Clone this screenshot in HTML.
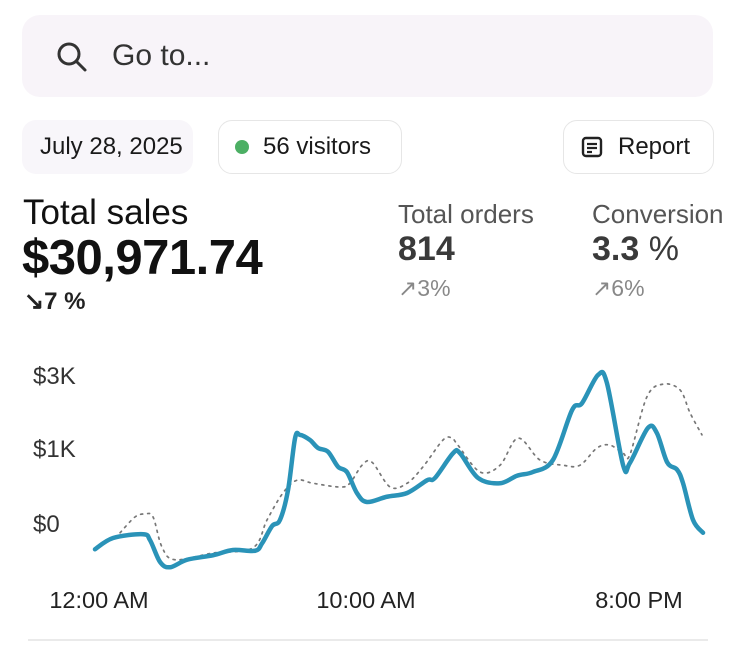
<!DOCTYPE html>
<html><head><meta charset="utf-8"><style>
body{margin:0;width:736px;height:645px;background:#fff;font-family:"Liberation Sans",sans-serif;color:#111;position:relative;overflow:hidden}
.abs{position:absolute;white-space:nowrap}
.pill{position:absolute;top:120px;height:54px;border-radius:14px;box-sizing:border-box;display:flex;align-items:center;font-size:24px;color:#1a1a1a}
</style></head><body>
<div class="abs" style="left:22px;top:15px;width:691px;height:82px;background:#f8f4f9;border-radius:18px">
  <svg style="position:absolute;left:34px;top:26px" width="32" height="32" viewBox="0 0 32 32"><circle cx="13" cy="13" r="10" fill="none" stroke="#333" stroke-width="3"/><line x1="20.5" y1="20.5" x2="29" y2="29" stroke="#333" stroke-width="3" stroke-linecap="round"/></svg>
  <span class="abs" style="left:90px;top:24px;font-size:30px;color:#333">Go to...</span>
</div>
<div class="pill" style="left:22px;width:171px;background:#f8f6fa;padding-left:18px">July 28, 2025</div>
<div class="pill" style="left:218px;width:184px;border:1px solid #e6e6e6;padding-left:16px"><span style="width:14px;height:14px;border-radius:50%;background:#4caf64;margin-right:14px"></span>56 visitors</div>
<div class="pill" style="left:563px;width:151px;border:1px solid #e6e6e6;padding-left:16px">
  <svg width="24" height="24" viewBox="0 0 24 24" style="margin-right:14px"><rect x="3" y="3" width="18" height="18" rx="3" fill="none" stroke="#222" stroke-width="2.4"/><line x1="7" y1="9" x2="17" y2="9" stroke="#222" stroke-width="2.2"/><line x1="7" y1="13" x2="17" y2="13" stroke="#222" stroke-width="2.2"/><line x1="7" y1="17" x2="12" y2="17" stroke="#222" stroke-width="2.2"/></svg>Report</div>

<div class="abs" style="left:23px;top:193px;font-size:35px;color:#111">Total sales</div>
<div class="abs" style="left:22px;top:230px;font-size:49px;font-weight:bold;color:#111;letter-spacing:-0.5px">$30,971.74</div>
<div class="abs" style="left:24px;top:287px;font-size:24px;color:#222;font-weight:bold">↘7 %</div>

<div class="abs" style="left:398px;top:199px;font-size:26px;color:#555">Total orders</div>
<div class="abs" style="left:398px;top:230px;font-size:34px;font-weight:bold;color:#3a3a3a">814</div>
<div class="abs" style="left:398px;top:275px;font-size:23px;color:#888">↗3%</div>
<div class="abs" style="left:592px;top:199px;font-size:26px;color:#555">Conversion</div>
<div class="abs" style="left:592px;top:230px;font-size:34px;font-weight:bold;color:#3a3a3a">3.3<span style="font-weight:normal"> %</span></div>
<div class="abs" style="left:592px;top:275px;font-size:23px;color:#888">↗6%</div>

<svg id="chart" class="abs" style="left:0;top:340px" width="736" height="305"></svg>
<script>
const yTicks=[0,1,3];
const yTickLabels=["$0","$1K","$3K"];
const xTicks=[0,10,20];
const xTickLabels=["12:00 AM","10:00 AM","8:00 PM"];
const salesHours=[0,0.67,1.78,2.04,2.41,2.78,3.41,4.37,5.11,5.93,6.19,6.56,6.85,7.15,7.41,7.59,7.96,8.26,8.63,9.0,9.33,9.7,10.07,10.81,11.56,12.3,12.59,13.26,13.52,14.19,15.0,15.63,16.22,16.96,17.67,18.04,18.63,18.96,19.56,19.81,20.48,20.81,21.19,21.56,21.78,22.15,22.52];
const salesValues=[-0.35,-0.2,-0.15,-0.23,-0.52,-0.59,-0.49,-0.43,-0.36,-0.37,-0.27,-0.04,0.04,0.44,1.27,1.36,1.22,1.0,0.95,0.75,0.68,0.4,0.28,0.35,0.4,0.57,0.6,0.93,0.93,0.6,0.53,0.63,0.68,0.84,2.04,2.23,3.0,2.78,0.77,0.8,1.55,1.41,0.81,0.71,0.53,0.04,-0.13];
const prevHours=[0.93,1.48,1.85,2.15,2.48,2.96,4.37,5.85,6.37,6.96,7.48,8.07,9.07,9.44,9.89,10.26,10.93,11.56,12.15,12.89,13.22,13.44,14.26,15.0,15.67,16.48,17.33,17.96,18.59,19.07,19.56,19.81,20.44,21.04,21.67,22.04,22.48];
const prevValues=[-0.13,0.08,0.12,0.08,-0.32,-0.49,-0.4,-0.33,0.04,0.4,0.57,0.53,0.48,0.53,0.77,0.81,0.48,0.53,0.75,1.22,1.27,1.08,0.68,0.77,1.27,0.84,0.77,0.77,1.0,1.08,0.93,0.91,2.4,2.75,2.59,1.96,1.36];
const NS="http://www.w3.org/2000/svg";
const svg=document.getElementById('chart');
function xs(h){return 95+27*h;}
function ys(v){return v<=1?183-75*v:108-36.5*(v-1);}
function mk(t,a){const e=document.createElementNS(NS,t);for(const k in a)e.setAttribute(k,a[k]);svg.appendChild(e);return e;}
function pathD(hs,vs){const p=hs.map((h,i)=>[xs(h),ys(vs[i])]);let d="M"+p[0][0]+","+p[0][1];
for(let i=0;i<p.length-1;i++){const p0=p[Math.max(0,i-1)],p1=p[i],p2=p[i+1],p3=p[Math.min(p.length-1,i+2)];
d+=" C"+(p1[0]+(p2[0]-p0[0])/6)+","+(p1[1]+(p2[1]-p0[1])/6)+" "+(p2[0]-(p3[0]-p1[0])/6)+","+(p2[1]-(p3[1]-p1[1])/6)+" "+p2[0]+","+p2[1];}return d;}
yTicks.forEach((v,i)=>{const t=mk('text',{x:33,y:ys(v)+9,'font-size':24,fill:'#333','font-family':'Liberation Sans, sans-serif'});t.textContent=yTickLabels[i];

});
xTicks.forEach((h,i)=>{const t=mk('text',{x:xs(h)+4-3*(i===1),y:268,'font-size':23.5,fill:'#222','text-anchor':'middle','font-family':'Liberation Sans, sans-serif'});t.textContent=xTickLabels[i];

});
const prev=mk('path',{d:pathD(prevHours,prevValues),fill:'none',stroke:'#777','stroke-width':1.7,'stroke-dasharray':'2 5','stroke-linecap':'round'});


const cur=mk('path',{d:pathD(salesHours,salesValues),fill:'none',stroke:'#2a93b8','stroke-width':4.5,'stroke-linejoin':'round','stroke-linecap':'round'});


const base=mk('line',{x1:28,x2:708,y1:300,y2:300,stroke:'#e4e4e4','stroke-width':1.5});


</script>
</body></html>
